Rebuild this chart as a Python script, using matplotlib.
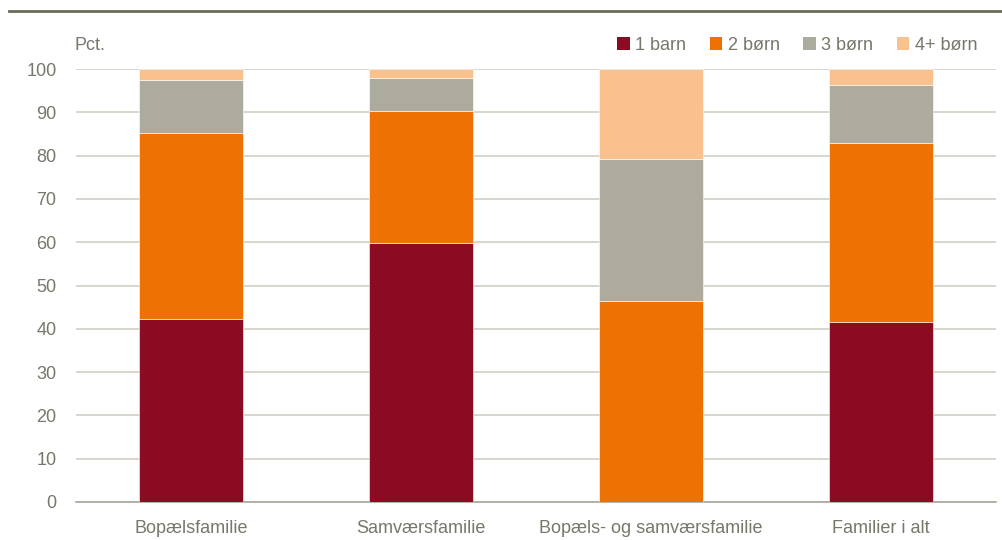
import matplotlib.pyplot as plt
from matplotlib.patches import Patch
from matplotlib import font_manager

categories = ["Bopælsfamilie", "Samværsfamilie", "Bopæls- og samværsfamilie", "Familier i alt"]
series_names = ["1 barn", "2 børn", "3 børn", "4+ børn"]
barn1 = [42.3, 59.8, 0.0, 41.6]
born2 = [42.9, 30.5, 46.4, 41.3]
born3 = [12.3, 7.6, 32.8, 13.4]
born4 = [2.5, 2.1, 20.8, 3.7]
yticks = [0, 10, 20, 30, 40, 50, 60, 70, 80, 90, 100]

colors = ["#8B0C22", "#EE7203", "#ADAB9D", "#F8C18D"]
txt = "#77776a"

names = {f.name for f in font_manager.fontManager.ttflist}
fam = "Liberation Sans Narrow" if "Liberation Sans Narrow" in names else "Liberation Sans"
plt.rcParams["font.family"] = [fam, "DejaVu Sans"]

fig = plt.figure(figsize=(10.02, 5.4), dpi=100)
ax = fig.add_axes([76 / 1002, 1 - 502 / 540, 920 / 1002, 433 / 540])

x = list(range(len(categories)))
bottom = [0] * len(categories)
for vals, c in zip([barn1, born2, born3, born4], colors):
    ax.bar(x, vals, bottom=bottom, width=0.452, color=c, edgecolor="white", linewidth=0.4, zorder=3)
    bottom = [b + v for b, v in zip(bottom, vals)]

ax.set_xlim(-0.5, 3.5)
ax.set_ylim(0, 100)
ax.set_yticks(yticks)
ax.set_xticks(x)
ax.set_xticklabels(categories)
ax.grid(axis="y", color="#cfcfc5", linewidth=1.2, zorder=0)
for s in ["top", "right", "left"]:
    ax.spines[s].set_visible(False)
ax.spines["bottom"].set_color("#a8a898")
ax.spines["bottom"].set_linewidth(1.2)
ax.tick_params(axis="both", length=0, labelsize=13, colors=txt)
ax.tick_params(axis="y", pad=14)
ax.tick_params(axis="x", pad=13)

fig.text(75 / 1002, 1 - 45 / 540, "Pct.", fontsize=13, color=txt, va="center", ha="left")

handles = [Patch(facecolor=c, edgecolor="none") for c in colors]
fig.legend(handles, series_names, loc="center right", bbox_to_anchor=(0.988, 1 - 45 / 540),
           ncol=4, frameon=False, fontsize=13, labelcolor=txt, handlelength=0.7,
           handleheight=0.7, handletextpad=0.3, columnspacing=1.3, borderaxespad=0.3)

fig.add_artist(plt.Line2D([9 / 1002, 1], [1 - 11 / 540, 1 - 11 / 540], color="#6b6b5a", linewidth=2))

fig.savefig("out.png", dpi=100)
